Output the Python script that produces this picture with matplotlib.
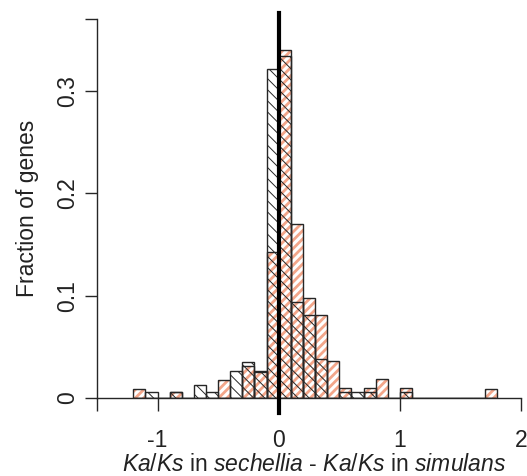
"""Histogram of Ka/Ks differences, sechellia vs simulans."""
import matplotlib
matplotlib.use("Agg")
import matplotlib.pyplot as plt
import numpy as np

plt.rcParams["font.family"] = ["Liberation Sans", "DejaVu Sans"]
plt.rcParams["mathtext.fontset"] = "custom"
plt.rcParams["mathtext.rm"] = "Liberation Sans"
plt.rcParams["mathtext.it"] = "Liberation Sans:italic"

# bin left edges, width 0.1, from -1.2 to 1.7
bin_left = np.round(np.arange(-1.2, 1.75, 0.1), 2)
bin_width = 0.1

# open bars with black hatching
open_frac = [0.0, 0.0055, 0.0, 0.0055, 0.0, 0.0127, 0.0055, 0.0, 0.026, 0.035,
             0.0265, 0.321, 0.334, 0.094, 0.081, 0.038, 0.0, 0.006, 0.006, 0.006,
             0.0, 0.0, 0.006, 0.0, 0.0, 0.0, 0.0, 0.0, 0.0, 0.0]
# salmon hatched bars
salmon_frac = [0.0085, 0.0, 0.0, 0.0055, 0.0, 0.0, 0.0, 0.018, 0.0, 0.031,
               0.025, 0.143, 0.340, 0.170, 0.098, 0.081, 0.036, 0.0094, 0.0, 0.0094,
               0.0185, 0.0, 0.0094, 0.0, 0.0, 0.0, 0.0, 0.0, 0.0, 0.0085]

SALMON = "#F3A68A"
EDGE = "#262626"

fig = plt.figure(figsize=(5.27, 4.76), dpi=100)
ax = fig.add_axes([97 / 527, 78 / 476, 424 / 527, 379 / 476])

# salmon stripes (drawn as hatch, no fill)
plt.rcParams["hatch.linewidth"] = 2.0
ax.bar(bin_left, salmon_frac, width=bin_width, align="edge", facecolor="none",
       edgecolor=SALMON, hatch="////", linewidth=0)
# black thin hatching over the open bars
plt.rcParams["hatch.linewidth"] = 0.7
ax.bar(bin_left, open_frac, width=bin_width, align="edge", facecolor="none",
       edgecolor=EDGE, hatch="\\\\\\", linewidth=0)
# outlines
for vals in (salmon_frac, open_frac):
    ax.bar(bin_left, vals, width=bin_width, align="edge", facecolor="none",
           edgecolor=EDGE, linewidth=1.0)

ax.plot([0, 0], [-0.0146, 0.376], color="black", lw=3, clip_on=False, zorder=5)

ax.set_xlim(-1.5, 2)
ax.set_ylim(0, 0.37)
for side in ("top", "right"):
    ax.spines[side].set_visible(False)
for side in ("left", "bottom"):
    ax.spines[side].set_color(EDGE)
    ax.spines[side].set_linewidth(1.0)

ax.set_xticks([-1.5, -1, 0, 1, 2])
ax.set_xticklabels(["", "-1", "0", "1", "2"])
ax.set_yticks([0, 0.1, 0.2, 0.3, 0.37])
ax.set_yticklabels(["0", "0.1", "0.2", "0.3", ""])
ax.tick_params(axis="both", direction="out", length=9, width=1.0, color=EDGE,
               labelsize=16.5, labelcolor="#222222")
ax.tick_params(axis="x", pad=13)
ax.tick_params(axis="y", pad=4, labelrotation=90)
for lab in ax.get_yticklabels():
    lab.set_va("center")

ax.set_ylabel("Fraction of genes", fontsize=16.5, color="#222222", labelpad=12)
ax.set_xlabel(r"$\mathit{Ka/Ks}$ in $\mathit{sechellia}$ - $\mathit{Ka/Ks}$ in $\mathit{simulans}$",
              fontsize=16.5, color="#222222")
ax.xaxis.label.set_va("baseline")
ax.xaxis.set_label_coords(0.512, (398 - 471) / 379)

fig.savefig("out.png", dpi=100)
